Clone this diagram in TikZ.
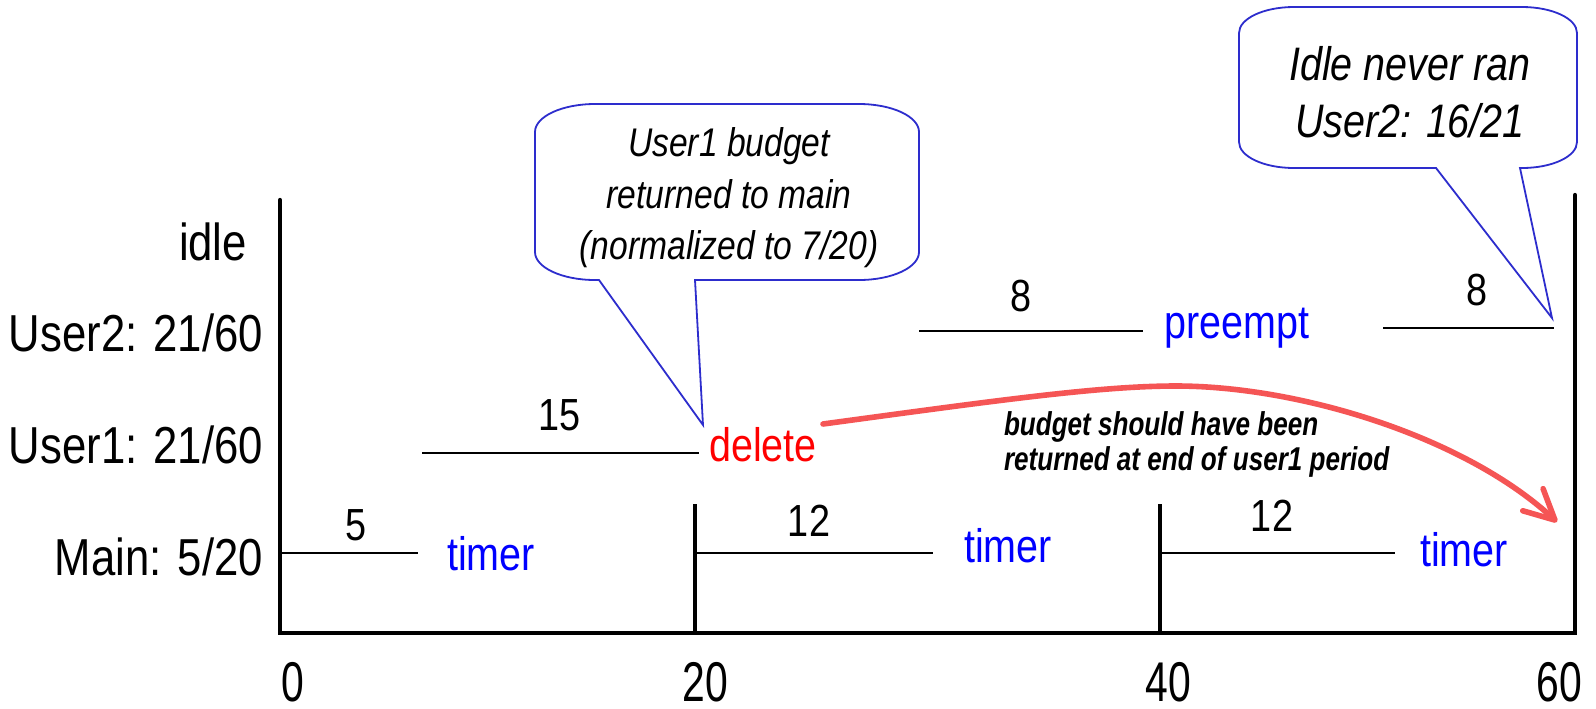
\documentclass[tikz,border=0pt]{standalone}
\usepackage{fontspec}
\setmainfont{Liberation Sans}[FakeStretch=0.84]
\newfontfamily\notefont{Liberation Sans}[FakeStretch=0.79]
\newfontfamily\tickfont{Liberation Sans}[FakeStretch=0.73]
\usetikzlibrary{arrows.meta}
\definecolor{evblue}{RGB}{0,0,255}
\definecolor{bubbleblue}{RGB}{45,45,205}
\definecolor{arrowred}{RGB}{245,85,85}
\begin{document}
\begin{tikzpicture}[x=0.5pt,y=-0.5pt,
  every node/.style={inner sep=0pt, outer sep=0pt},
  rowlabel/.style={anchor=base east, font=\fontsize{26}{30}\selectfont},
  ticklabel/.style={anchor=base, font=\tickfont\fontsize{28}{32}\selectfont},
  duration/.style={anchor=base, font=\fontsize{22.5}{27}\selectfont},
  eventlbl/.style={anchor=base, text=evblue, font=\fontsize{23.5}{28}\selectfont},
  axisline/.style={line width=2.2pt, black},
  runseg/.style={line width=1pt, black},
  bubble/.style={draw=bubbleblue, line width=0.9pt, fill=white, line join=miter},
  bubbletext/.style={align=center, font=\itshape},
  notetext/.style={align=left, anchor=west, font=\notefont\bfseries\itshape\fontsize{16.5}{17.5}\selectfont},
  latearrow/.style={draw=arrowred, line width=2.8pt, line cap=round,
    -{Straight Barb[length=15pt,width=15pt,round]}}
]
\useasboundingbox (0,0) rectangle (1596,708);
\fill[white] (0,0) rectangle (1596,708);

% row labels
\node[rowlabel] (lidle)  at (247,260) {idle};
\node[rowlabel] (luser2) at (263,351) {User2: 21/60};
\node[rowlabel] (luser1) at (263,463) {User1: 21/60};
\node[rowlabel] (lmain)  at (263,575) {Main: 5/20};

% time axis
\coordinate (o)    at (280,633);
\coordinate (otop) at (280,200);
\coordinate (e)    at (1575,633);
\coordinate (etop) at (1575,195);
\coordinate (t20)  at (695,633);
\coordinate (t20top) at (695,504);
\coordinate (t40)  at (1160,633);
\coordinate (t40top) at (1160,504);
\draw[axisline, line cap=round] (otop) -- (o) -- (e) -- (etop);
\draw[axisline] (t20) -- (t20top);
\draw[axisline] (t40) -- (t40top);

\node[ticklabel] (x0)  at (293,701)  {0};
\node[ticklabel] (x20) at (705,701)  {20};
\node[ticklabel] (x40) at (1168,701) {40};
\node[ticklabel] (x60) at (1559,701) {60};

% Main runs
\coordinate (m1a) at (280,553);  \coordinate (m1b) at (418,553);
\coordinate (m2a) at (695,553);  \coordinate (m2b) at (933,553);
\coordinate (m3a) at (1160,553); \coordinate (m3b) at (1395,553);
\draw[runseg] (m1a) -- (m1b);
\draw[runseg] (m2a) -- (m2b);
\draw[runseg] (m3a) -- (m3b);
\node[duration] (d5)   at (356,540)  {5};
\node[duration] (d12a) at (809,536)  {12};
\node[duration] (d12b) at (1272,531) {12};
\node[eventlbl] (tim1) at (491,570)  {timer};
\node[eventlbl] (tim2) at (1008,562) {timer};
\node[eventlbl] (tim3) at (1464,566) {timer};

% User1 run
\coordinate (u1a) at (422,453); \coordinate (u1b) at (699,453);
\draw[runseg] (u1a) -- (u1b);
\node[duration] (d15) at (560,430) {15};
\node[eventlbl, text=red] (delete) at (763,461) {delete};

% User2 runs
\coordinate (u2a) at (919,331);  \coordinate (u2b) at (1143,331);
\coordinate (u2c) at (1383,328); \coordinate (u2d) at (1554,328);
\draw[runseg] (u2a) -- (u2b);
\draw[runseg] (u2c) -- (u2d);
\node[duration] (d8a) at (1021,311) {8};
\node[duration] (d8b) at (1477,305) {8};
\node[eventlbl] (preempt) at (1237,338) {preempt};

% callout on the deletion
\coordinate (tipA) at (703,425);
\draw[bubble] (599,280) -- (tipA) -- (695,280) -- (859,280)
  .. controls (892,280) and (919,267.5) .. (919,252) -- (919,132)
  .. controls (919,116.5) and (892,104) .. (859,104) -- (595,104)
  .. controls (562,104) and (535,116.5) .. (535,132) -- (535,252)
  .. controls (535,267.5) and (562,280) .. (595,280) -- cycle;
\node[bubbletext, font=\itshape\fontsize{20}{25.75}\selectfont] (noteA) at (729,198)
  {User1 budget\\returned to main\\(normalized to 7/20)};

% callout on the idle task
\coordinate (tipB) at (1552,318);
\draw[bubble] (1436,168) -- (tipB) -- (1520,168) -- (1522,168)
  .. controls (1552.4,168) and (1577,156.4) .. (1577,142) -- (1577,33)
  .. controls (1577,18.6) and (1552.4,7) .. (1522,7) -- (1294,7)
  .. controls (1263.6,7) and (1239,18.6) .. (1239,33) -- (1239,142)
  .. controls (1239,156.4) and (1263.6,168) .. (1294,168) -- cycle;
\node[bubbletext, font=\itshape\fontsize{23.5}{28.5}\selectfont] (noteB) at (1410,92)
  {Idle never ran\\User2: 16/21};

% late budget return
\coordinate (arrowstart) at (823,424);
\coordinate (arrowpeak) at (1176,386);
\coordinate (arrowend) at (1557,522);
\draw[latearrow] (arrowstart) .. controls (1000,400) and (1100,386) .. (arrowpeak)
  .. controls (1300,386) and (1465,437) .. (arrowend);
\node[notetext] (late) at (1004,444)
  {budget should have been\\returned at end of user1 period};
\end{tikzpicture}
\end{document}
